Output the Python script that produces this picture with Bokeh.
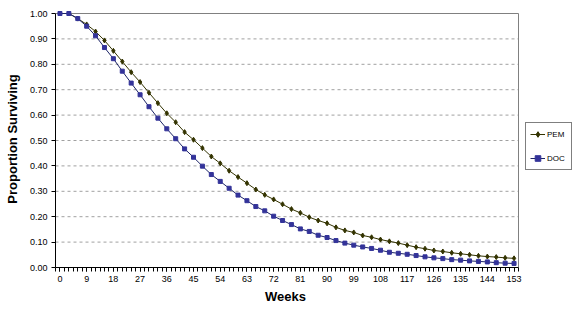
from bokeh.plotting import figure
from bokeh.models import (FixedTicker, NumeralTickFormatter, Legend, LegendItem, Range1d, Title)
from bokeh.embed import file_html
from bokeh.resources import INLINE

weeks = list(range(0, 154, 3))

pem = [1.000, 1.000, 0.980, 0.957, 0.929, 0.894, 0.853, 0.811, 0.769, 0.730,
       0.688, 0.647, 0.607, 0.572, 0.533, 0.503, 0.470, 0.437, 0.410, 0.381,
       0.356, 0.332, 0.307, 0.286, 0.268, 0.249, 0.230, 0.215, 0.198, 0.185,
       0.174, 0.158, 0.146, 0.138, 0.126, 0.119, 0.110, 0.103, 0.096, 0.088,
       0.080, 0.074, 0.067, 0.063, 0.058, 0.054, 0.050, 0.046, 0.043, 0.041,
       0.038, 0.036]

doc = [1.000, 1.000, 0.980, 0.950, 0.912, 0.866, 0.822, 0.773, 0.726, 0.680,
       0.633, 0.588, 0.546, 0.507, 0.467, 0.434, 0.399, 0.366, 0.339, 0.312,
       0.285, 0.263, 0.240, 0.223, 0.202, 0.185, 0.169, 0.152, 0.142, 0.127,
       0.118, 0.106, 0.096, 0.088, 0.081, 0.075, 0.068, 0.060, 0.056, 0.052,
       0.047, 0.042, 0.038, 0.035, 0.031, 0.029, 0.026, 0.024, 0.022, 0.019,
       0.017, 0.016]

x_tick_labels = list(range(0, 154, 9))
y_ticks = [i / 10 for i in range(11)]

FONT = "Liberation Sans"

# plot-area geometry (pixels) and axis extents (data)
X0, X1 = -1.5, 154.5
Y0, Y1 = 0.0, 1.0
W, H = 574, 310
LEFT, TOP, BOTTOM = 55, 10, 267
AREA_RIGHT = 518
xscale = (X1 - X0) / (AREA_RIGHT - LEFT)
x_end = X0 + (W - LEFT) * xscale
yscale = (Y1 - Y0) / (BOTTOM - 13)
y_end = Y1 + (13 - TOP) * yscale

p = figure(width=W, height=H, output_backend="svg", toolbar_location=None,
           x_range=Range1d(X0, x_end), y_range=Range1d(Y0, y_end),
           min_border_left=LEFT, min_border_top=TOP, min_border_bottom=H - BOTTOM,
           min_border_right=0, background_fill_color="white",
           border_fill_color="white")

p.outline_line_color = None

# axes
p.xaxis.ticker = FixedTicker(ticks=x_tick_labels,
                             minor_ticks=[X0 + 1.5 * i for i in range(105)])
p.yaxis.ticker = FixedTicker(ticks=y_ticks, minor_ticks=[])
p.yaxis.formatter = NumeralTickFormatter(format="0.00")
p.xaxis.bounds = (X0, X1)
p.yaxis.bounds = (Y0, Y1)

for ax in (p.xaxis[0], p.yaxis[0]):
    ax.axis_line_color = "black"
    ax.axis_line_width = 1
    ax.major_tick_line_color = "black"
    ax.minor_tick_line_color = "black"
    ax.major_tick_in = 0
    ax.major_tick_out = 4
    ax.minor_tick_in = 0
    ax.minor_tick_out = 4
    ax.major_label_text_font = FONT
    ax.major_label_text_font_size = "9px"
    ax.major_label_text_color = "black"
    ax.axis_label_text_font = FONT
    ax.axis_label_text_font_style = "bold"
    ax.axis_label_text_font_size = "13px"
    ax.axis_label_text_color = "black"

p.yaxis.minor_tick_out = 0
p.yaxis.axis_label = "Proportion Surviving"
p.xaxis.major_label_standoff = 4
p.yaxis.major_label_standoff = 4
p.yaxis.axis_label_standoff = 7

# x-axis title, centred under the plot area (not the whole frame)
xtitle = Title(text="Weeks", align="left", text_font=FONT, text_font_style="bold",
               text_font_size="13px", text_color="black",
               offset=(AREA_RIGHT - LEFT) / 2 - 22, standoff=4)
p.add_layout(xtitle, "below")

p.xgrid.visible = False
p.ygrid.visible = False

# plot area: dashed gridlines, gray top and right border
grid_y = y_ticks[1:-1]
p.segment(x0=[X0] * len(grid_y), y0=grid_y, x1=[X1] * len(grid_y), y1=grid_y,
          line_color="#a0a0a0", line_dash="3 3", line_width=1)
p.segment(x0=[X0, X1], y0=[Y1, Y0], x1=[X1, X1], y1=[Y1, Y1],
          line_color="#808080", line_width=1)

# series
pem_line = p.line(weeks, pem, line_color="#333300", line_width=1)
pem_pts = p.scatter(weeks, pem, marker="diamond", size=5,
                    fill_color="#333300", line_color="#333300")
doc_line = p.line(weeks, doc, line_color="#1c2466", line_width=1)
doc_pts = p.scatter(weeks, doc, marker="square", size=4,
                    fill_color="#333399", line_color="#333399")

legend = Legend(items=[LegendItem(label="PEM", renderers=[pem_line, pem_pts]),
                       LegendItem(label="DOC", renderers=[doc_line, doc_pts])],
                location=(525 - LEFT, BOTTOM - 170), orientation="vertical")
legend.label_text_font = FONT
legend.label_text_font_size = "8px"
legend.label_text_color = "black"
legend.border_line_color = "black"
legend.border_line_width = 1
legend.background_fill_color = "white"
legend.background_fill_alpha = 1.0
legend.padding = 4
legend.spacing = 10
legend.glyph_width = 15
legend.glyph_height = 14
legend.label_standoff = 2
legend.margin = 0
p.add_layout(legend, "center")

open("out.html", "w").write(file_html(p, INLINE))
